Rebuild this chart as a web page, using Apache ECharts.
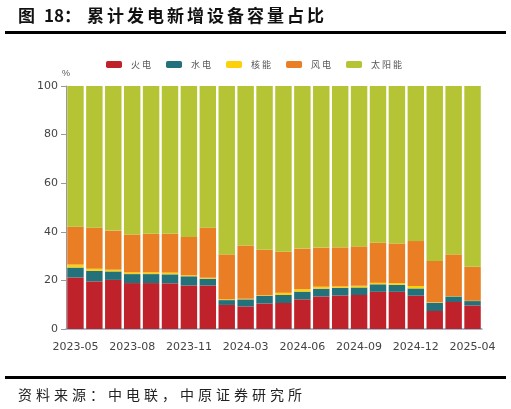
<!DOCTYPE html>
<html>
<head>
<meta charset="utf-8">
<script src="https://cdn.jsdelivr.net/npm/echarts@6/dist/echarts.min.js"></script>
<style>html,body{margin:0;padding:0;background:#fff;}#c{width:511px;height:409px;}</style>
</head>
<body>
<div id="c"></div>
<script>
var categories = ['2023-05','2023-06','2023-07','2023-08','2023-09','2023-10','2023-11','2023-12','2024-02','2024-03','2024-04','2024-05','2024-06','2024-07','2024-08','2024-09','2024-10','2024-11','2024-12','2025-02','2025-03','2025-04'];
var thermal = [21.2,19.6,20.2,18.9,18.9,18.8,17.9,17.9,9.9,9.3,10.5,10.7,12.2,13.4,13.8,14.0,15.3,15.3,13.7,7.4,11.1,9.7];
var hydro   = [4.1,4.3,3.5,3.7,3.7,3.7,3.8,2.8,2.0,2.9,3.2,3.3,3.2,3.2,3.1,3.1,3.1,2.9,3.0,3.4,2.3,1.8];
var nuclear = [1.2,0.9,0.7,0.7,0.7,0.7,0.4,0.4,0.3,0.2,0.2,0.9,1.0,0.8,0.6,0.7,0.6,0.7,1.0,0.2,0.1,0.1];
var wind    = [15.6,16.9,16.1,15.6,15.9,16.0,15.8,20.6,18.5,22.0,18.7,16.9,16.7,16.1,16.1,16.2,16.5,16.3,18.5,17.0,17.2,14.0];
var solar   = [57.9,58.3,59.5,61.1,60.8,60.8,62.1,58.3,69.3,65.6,67.4,68.2,66.9,66.5,66.4,66.0,64.5,64.8,63.8,72.0,69.3,74.4];
var yTicks = [0,20,40,60,80,100];
var seriesNames = ['火电','水电','核能','风电','太阳能'];
var titleFig = '图';
var titleNum = '18：';
var titleText = '累计发电新增设备容量占比';
var sourceText = '资料来源：中电联，中原证券研究所';

var colors = ['#C0222C','#23717B','#FDD10A','#E97E24','#B5C434'];
var datas = [thermal, hydro, nuclear, wind, solar];

function spacedText(str, x0, pitch, yc, font, fill){
  var out = [];
  for (var i=0;i<str.length;i++){
    out.push({type:'text',x:x0+i*pitch,y:yc,style:{text:str[i],fill:fill,font:font,textVerticalAlign:'middle'}});
  }
  return out;
}

var graphics = [
  {type:'text',x:18,y:16,style:{text:titleFig,fill:'#111',font:'bold 17px "Noto Sans CJK SC"',textVerticalAlign:'middle'}},
  {type:'text',x:44,y:16,style:{text:titleNum,fill:'#111',font:'bold 17px "Noto Sans CJK SC"',textVerticalAlign:'middle'}},
  {type:'rect',shape:{x:5,y:31,width:501,height:3},style:{fill:'#000'}},
  {type:'rect',shape:{x:5,y:376,width:501,height:3},style:{fill:'#000'}}
].concat(spacedText(titleText,87,20,16,'bold 17px "Noto Sans CJK SC"','#111'))
 .concat(spacedText(sourceText,18,18,395,'14px "Noto Sans CJK SC"','#222'));

var chart = echarts.init(document.getElementById('c'));
var series = seriesNames.map(function(n,i){
  return {name:n,type:'bar',stack:'total',data:datas[i],barCategoryGap:'13%',
    itemStyle:{color:colors[i]}};
});
chart.setOption({
  animation:false,
  color:colors,
  legend:{top:55,left:101,itemWidth:16,itemHeight:7,itemGap:15,icon:'roundRect',
    formatter:function(n){return n.split('').join(' ');},
    textStyle:{color:'#555',fontSize:9,fontFamily:'Noto Sans CJK SC',padding:[0,0,0,4]},data:seriesNames},
  grid:{left:66,right:29,top:86,bottom:80},
  xAxis:{type:'category',data:categories,
    axisLine:{lineStyle:{color:'#7FA9BA',width:1.5}},axisTick:{show:false},
    axisLabel:{interval:2,color:'#444',fontSize:11,margin:13,fontFamily:'DejaVu Sans'}},
  yAxis:{type:'value',min:yTicks[0],max:yTicks[yTicks.length-1],interval:20,
    name:'%',nameGap:8,nameTextStyle:{color:'#555',fontSize:9,align:'center'},
    axisLine:{show:true,lineStyle:{color:'#999'}},axisTick:{show:true,lineStyle:{color:'#999'}},
    splitLine:{show:false},
    axisLabel:{color:'#444',fontSize:11,margin:8,fontFamily:'DejaVu Sans'}},
  graphic:graphics,
  series:series
});
</script>
</body>
</html>
